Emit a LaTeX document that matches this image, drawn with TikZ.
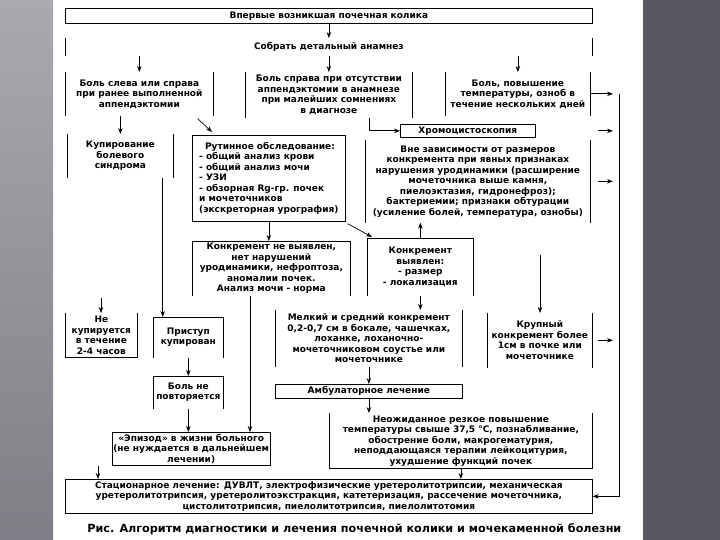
\documentclass[tikz,border=0pt]{standalone}
\usepackage{fontspec}
\setmainfont{DejaVu Sans}
\usetikzlibrary{arrows.meta, positioning, calc}
\definecolor{stripgray}{HTML}{A9A9AF}
\definecolor{stripdark}{HTML}{7E7E86}
\definecolor{panelgray}{HTML}{58575F}
\tikzstyle{arrow}=[-{Stealth[length=6pt,width=4.5pt]}, line width=0.7pt, color=black]

\begin{document}
\begin{tikzpicture}[x=1pt, y=-1pt, line width=0.7pt,
    txt/.style={font=\fontsize{9}{10.5}\selectfont\bfseries, align=center,
                inner sep=1pt, anchor=north west},
    box/.style={txt, draw},
    sidebox/.style={txt, append after command={
        (\tikzlastnode.north west) edge (\tikzlastnode.south west)
        (\tikzlastnode.north east) edge (\tikzlastnode.south east)}},
    capbox/.style={txt, append after command={
        (\tikzlastnode.south west) edge (\tikzlastnode.north west)
        (\tikzlastnode.north west) edge (\tikzlastnode.north east)
        (\tikzlastnode.north east) edge (\tikzlastnode.south east)}},
    cupbox/.style={txt, append after command={
        (\tikzlastnode.north west) edge (\tikzlastnode.south west)
        (\tikzlastnode.south west) edge (\tikzlastnode.south east)
        (\tikzlastnode.south east) edge (\tikzlastnode.north east)}}]
  \useasboundingbox (0,0) rectangle (720,540);
  % slide background
  \fill[white] (0,0) rectangle (720,540);
  \shade[top color=stripgray, bottom color=stripdark] (0,0) rectangle (53,540);
  \fill[panelgray] (643,0) rectangle (720,540);

  % first row
  \node[box, minimum width=527, minimum height=15] (kolika) at (65,8)
    {Впервые возникшая почечная колика};
  \node[sidebox, minimum width=527, minimum height=17] (anamnez) at (65,38)
    {Собрать детальный анамнез};
  \node[sidebox, minimum width=148, minimum height=43] (sleva) at (65,72)
    {Боль слева или справа\\при ранее выполненной\\аппендэктомии};
  \node[sidebox, minimum width=167, minimum height=45] (sprava) at (245,72)
    {Боль справа при отсутствии\\аппендэктомии в анамнезе\\при малейших сомнениях\\в диагнозе};
  \node[sidebox, minimum width=145, minimum height=43] (oznob) at (445,72)
    {Боль, повышение\\температуры, озноб в\\течение нескольких дней};

  % second row
  \node[sidebox, minimum width=106, minimum height=43] (kupir) at (67,134)
    {Купирование\\болевого\\синдрома};
  \node[box, minimum width=153, minimum height=86, align=left] (rutin) at (192,135)
    {\hspace*{6pt}Рутинное обследование:\\- общий анализ крови\\- общий анализ мочи\\- УЗИ\\- обзорная Rg-гр. почек\\и мочеточников\\(экскреторная урография)};
  \node[box, minimum width=135, minimum height=13] (hromo) at (400,124)
    {Хромоцистоскопия};
  \node[sidebox, minimum width=225, minimum height=82] (vne) at (365,140)
    {Вне зависимости от размеров\\конкремента при явных признаках\\нарушения уродинамики (расширение\\мочеточника выше камня,\\пиелоэктазия, гидронефроз);\\бактериемии; признаки обтурации\\(усиление болей, температура, ознобы)};

  % third row
  \node[capbox, minimum width=158, minimum height=54] (nevyav) at (192,241)
    {Конкремент не выявлен,\\нет нарушений\\уродинамики, нефроптоза,\\аномалии почек.\\Анализ мочи - норма};
  \node[capbox, minimum width=106, minimum height=57] (vyav) at (367,238)
    {Конкремент\\выявлен:\\- размер\\- локализация};

  % fourth row
  \node[cupbox, minimum width=72, minimum height=44] (nekup) at (65,313)
    {Не\\купируется\\в течение\\2-4 часов};
  \node[capbox, minimum width=70, minimum height=40] (pristup) at (153,317)
    {Приступ\\купирован};
  \node[sidebox, minimum width=187, minimum height=56] (melkiy) at (275,310)
    {Мелкий и средний конкремент\\0,2-0,7 см в бокале, чашечках,\\лоханке, лоханочно-\\мочеточниковом соустье или\\мочеточнике};
  \node[sidebox, minimum width=105, minimum height=54] (krupn) at (487,313)
    {Крупный\\конкремент более\\1см в почке или\\мочеточнике};

  % lower rows
  \node[capbox, minimum width=70, minimum height=32] (nepovt) at (153,376)
    {Боль не\\повторяется};
  \node[box, minimum width=187, minimum height=14] (ambul) at (275,384)
    {Амбулаторное лечение};
  \node[box, minimum width=146, minimum height=33] (epizod) at (112,432)
    {«Эпизод» в жизни больного\\(не нуждается в дальнейшем\\лечении)};
  \node[cupbox, minimum width=263, minimum height=55] (neozh) at (329,413)
    {Неожиданное резкое повышение\\температуры свыше 37,5 °С, познабливание,\\обострение боли, макрогематурия,\\неподдающаяся терапии лейкоцитурия,\\ухудшение функций почек};
  \node[box, minimum width=527, minimum height=34] (stacion) at (65,479)
    {Стационарное лечение: ДУВЛТ, электрофизические уретеролитотрипсии, механическая\\уретеролитотрипсия, уретеролитоэкстракция, катетеризация, рассечение мочеточника,\\цистолитотрипсия, пиелолитотрипсия, пиелолитотомия};
  \node[txt, anchor=west, font=\fontsize{11.2}{13}\selectfont\bfseries] (caption) at (86,529)
    {Рис. Алгоритм диагностики и лечения почечной колики и мочекаменной болезни};

  % loose ends
  \coordinate (bus) at (619,0);
  \coordinate (stubA) at (598,0);
  \coordinate (stubB) at (613,0);
  \coordinate (tokrup) at (540,255);
  \coordinate (tonekup) at (101,298);
  \coordinate (tostac) at (98,466);

  % connectors
  \draw[arrow] (kolika) -- (anamnez);
  \draw[arrow] (sleva.north |- anamnez.south) -- (sleva.north);
  \draw[arrow] (sprava.north |- anamnez.south) -- (sprava.north);
  \draw[arrow] (oznob.north |- anamnez.south) -- (oznob.north);
  \draw[arrow] (sleva.south -| kupir.north) -- (kupir.north);
  \draw[arrow] ([xshift=-16pt,yshift=-3pt]sleva.south east) -- ([xshift=20pt,yshift=3pt]rutin.north west);
  \draw[arrow] ([xshift=-43pt]sprava.south east) |- (hromo.west);
  \draw[arrow] (oznob.east) -- ([xshift=-6pt]oznob.east -| bus);
  \draw[arrow] (oznob.east -| bus) -- (stacion.east -| bus) -- (stacion.east);
  \draw[arrow] (hromo.east -| stubA) -- (hromo.east -| stubB);
  \draw[arrow] (vne.east -| stubA) -- (vne.east -| stubB);
  \draw[arrow] (krupn.east -| stubA) -- (krupn.east -| stubB);
  \draw[arrow] (rutin.south) -- (rutin.south |- nevyav.north);
  \draw[arrow] ([xshift=2pt,yshift=-2pt]rutin.south east) -- ([xshift=5pt,yshift=1pt]vyav.north west);
  \draw[arrow] (vyav.north) -- (vyav.north |- vne.south);
  \draw[arrow] (vyav.south) -- (vyav.south |- melkiy.north);
  \draw[arrow] (tokrup) -- (tokrup |- krupn.north);
  \draw[arrow] (tonekup) -- (tonekup |- nekup.north);
  \draw[arrow] ([xshift=-11pt]kupir.south east) -- ([xshift=-11pt]kupir.south east |- pristup.north);
  \draw[arrow] (pristup) -- (nepovt);
  \draw[arrow] (nepovt.south) -- (nepovt.south |- epizod.north);
  \draw[arrow] ([xshift=58pt]nevyav.south west) -- ([xshift=58pt]nevyav.south west |- epizod.north);
  \draw[arrow] (melkiy) -- (ambul);
  \draw[arrow] (ambul.south) -- (ambul.south |- neozh.north);
  \draw[arrow] (neozh.south) -- (neozh.south |- stacion.north);
  \draw[arrow] (tostac) -- (tostac |- stacion.north);
\end{tikzpicture}
\end{document}
